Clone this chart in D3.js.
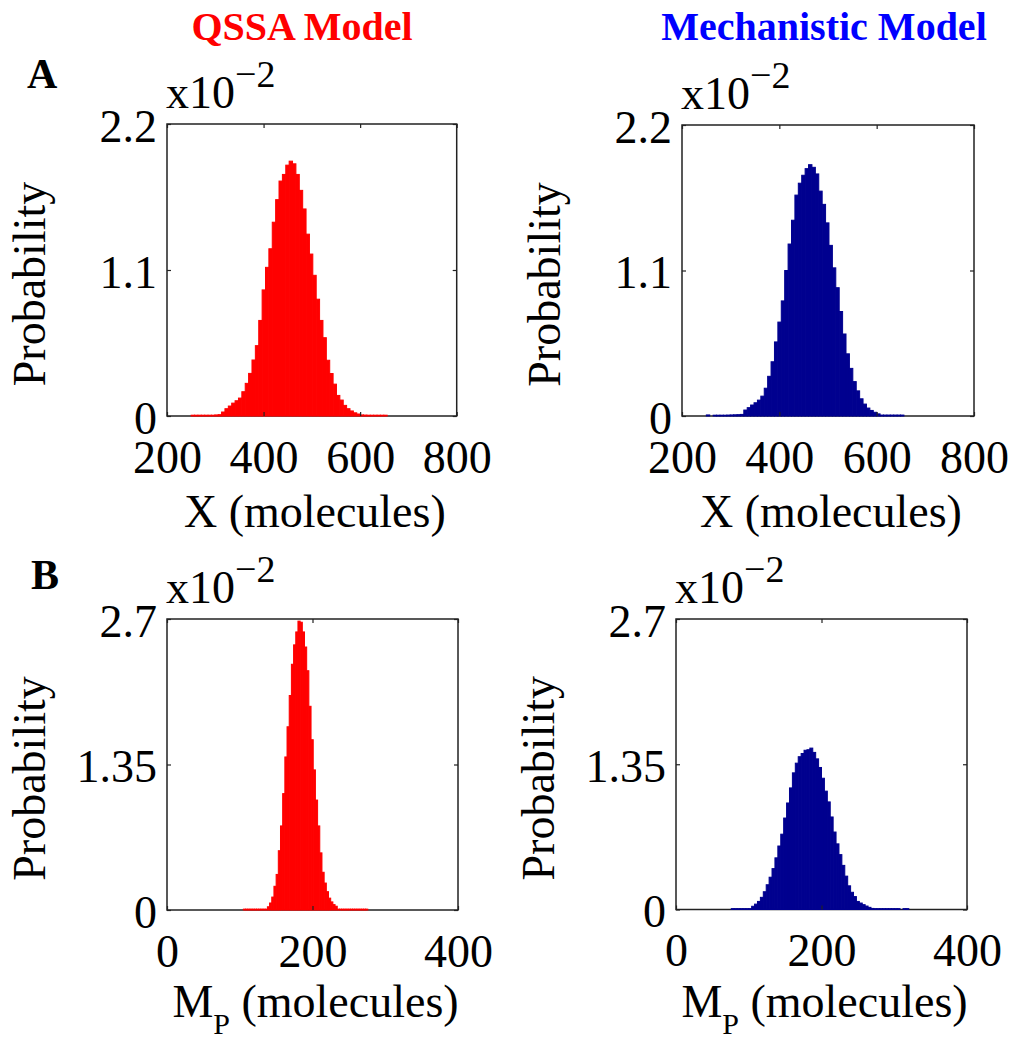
<!DOCTYPE html>
<html>
<head>
<meta charset="utf-8">
<script src="https://cdn.jsdelivr.net/npm/d3@7/dist/d3.min.js"></script>
<style>
  html, body { margin: 0; padding: 0; background: #fff; }
  svg { display: block; }
  text { font-family: "Liberation Serif", "Times New Roman", serif; fill: #000; }
</style>
</head>
<body>
<svg id="fig" width="1011" height="1042"></svg>
<script>
// Column headings and row letters
const columnTitles = ["QSSA Model", "Mechanistic Model"];
const columnColors = ["#ff0000", "#00008f"];
const titleColors = ["#ff0000", "#0000ff"];
const rowLetters = ["A", "B"];

// Axis ticks (probability in units of 10^-2)
const xTicksX = [200, 400, 600, 800];
const yTicksX = [0, 1.1, 2.2];
const xTicksMp = [0, 200, 400];
const yTicksMp = [0, 1.35, 2.7];

// Histogram of X (molecules): bins of 7 starting at 250
const binStartX = 250, binWidthX = 7;
const qssaX = [
  0.006, 0.006, 0.006, 0.006, 0.006, 0.006, 0.006, 0.008, 0.010,
  0.030, 0.055, 0.075, 0.097, 0.115, 0.135, 0.183, 0.246, 0.321, 0.422,
  0.53, 0.72, 0.95, 1.12, 1.26, 1.46, 1.63, 1.77, 1.82, 1.89, 1.92,
  1.90, 1.82, 1.70, 1.56, 1.37, 1.22, 1.06, 0.88, 0.72, 0.59, 0.42,
  0.32, 0.24, 0.155, 0.12, 0.08, 0.055, 0.038, 0.024, 0.015,
  0.008, 0.007, 0.006, 0.006, 0.006, 0.006, 0.006, 0.006
];
const mechX = [
  0.008, 0,
  0.006, 0.006, 0.006, 0.006, 0.007, 0.008, 0.009, 0.010, 0.012,
  0.045, 0.063, 0.083, 0.100, 0.12, 0.15, 0.21, 0.30, 0.41, 0.56,
  0.71, 0.87, 1.10, 1.30, 1.48, 1.67, 1.76, 1.82, 1.87, 1.90,
  1.88, 1.83, 1.70, 1.60, 1.46, 1.29, 1.12, 0.97, 0.79, 0.62,
  0.47, 0.36, 0.26, 0.19, 0.13, 0.09, 0.06, 0.042, 0.028, 0.016,
  0.007, 0.007, 0.007, 0.007, 0.007, 0.007, 0.007
];

// Histogram of M_P (molecules)
const binStartQMp = 105, binWidthQMp = 3;
const qssaMp = [
  0.008, 0.008, 0.008, 0.008, 0.008, 0.008, 0.008, 0.008, 0.008, 0.008, 0.008,
  0.03, 0.065, 0.12, 0.22, 0.33, 0.55, 0.78, 1.08, 1.42, 1.70,
  1.99, 2.28, 2.46, 2.58, 2.68, 2.67, 2.58, 2.44, 2.22, 1.89,
  1.58, 1.30, 1.02, 0.78, 0.53, 0.35, 0.25, 0.17, 0.11, 0.075,
  0.05, 0.035,
  0.008, 0.008, 0.008, 0.008, 0.008, 0.008, 0.008, 0.008, 0.008, 0.008, 0.008, 0.008, 0.008, 0.008
];
const binStartMMp = 76, binWidthMMp = 4;
const mechMp = [
  0.008, 0.008, 0.008, 0.008, 0.008, 0.008, 0.008,
  0.03, 0.05, 0.075, 0.113, 0.165, 0.23, 0.30, 0.38, 0.48, 0.59,
  0.70, 0.85, 0.99, 1.13, 1.27, 1.36, 1.42, 1.45, 1.48, 1.485,
  1.50, 1.46, 1.40, 1.32, 1.22, 1.10, 1.00, 0.86, 0.72, 0.61,
  0.51, 0.41, 0.31, 0.22, 0.16, 0.12, 0.075, 0.06, 0.045, 0.032,
  0.02, 0.01,
  0.008, 0.008, 0.008, 0.008, 0.008, 0.008, 0.008, 0.008, 0.008,
  0, 0.008, 0.008
];

const FS = 46;            // main text size
const svg = d3.select("#fig");

const panels = [
  { row: 0, col: 0, box: [167, 456.7, 124, 416], xDom: [200, 800], yDom: [0, 2.2],
    xTicks: xTicksX, yTicks: yTicksX, start: binStartX, width: binWidthX, values: qssaX, xlabel: "X" },
  { row: 0, col: 1, box: [682, 974, 125, 416], xDom: [200, 800], yDom: [0, 2.2],
    xTicks: xTicksX, yTicks: yTicksX, start: binStartX, width: binWidthX, values: mechX, xlabel: "X" },
  { row: 1, col: 0, box: [167, 458, 619, 910], xDom: [0, 400], yDom: [0, 2.7],
    xTicks: xTicksMp, yTicks: yTicksMp, start: binStartQMp, width: binWidthQMp, values: qssaMp, xlabel: "Mp" },
  { row: 1, col: 1, box: [676, 967, 619, 909.5], xDom: [0, 400], yDom: [0, 2.7],
    xTicks: xTicksMp, yTicks: yTicksMp, start: binStartMMp, width: binWidthMMp, values: mechMp, xlabel: "Mp" }
];

panels.forEach(p => {
  const [x0, x1, y0, y1] = p.box;
  const x = d3.scaleLinear().domain(p.xDom).range([x0, x1]);
  const y = d3.scaleLinear().domain(p.yDom).range([y1, y0]);
  const color = columnColors[p.col];
  const g = svg.append("g");

  // frame
  g.append("rect")
    .attr("x", x0).attr("y", y0)
    .attr("width", x1 - x0).attr("height", y1 - y0)
    .attr("fill", "none").attr("stroke", "#222").attr("stroke-width", 1.5);

  // histogram bars
  g.append("g").selectAll("rect")
    .data(p.values)
    .join("rect")
    .attr("x", (d, i) => x(p.start + i * p.width))
    .attr("width", x(p.start + p.width) - x(p.start))
    .attr("y", d => y(d))
    .attr("height", d => y(0) - y(d))
    .attr("fill", color)
    .attr("stroke", d => d > 0 ? color : "none")
    .attr("stroke-width", 1);

  // bottom axis with labels, inward ticks
  const bx = g.append("g").attr("transform", `translate(0,${y1})`)
    .call(d3.axisBottom(x).tickValues(p.xTicks).tickSize(-4).tickPadding(24).tickFormat(d3.format("d")));
  // top axis, ticks only
  const tx = g.append("g").attr("transform", `translate(0,${y0})`)
    .call(d3.axisTop(x).tickValues(p.xTicks).tickSize(-4).tickFormat(""));
  // left axis with labels
  const ly = g.append("g").attr("transform", `translate(${x0},0)`)
    .call(d3.axisLeft(y).tickValues(p.yTicks).tickSize(-4).tickPadding(10).tickFormat(d => String(d)));
  // right axis, ticks only
  const ry = g.append("g").attr("transform", `translate(${x1},0)`)
    .call(d3.axisRight(y).tickValues(p.yTicks).tickSize(-4).tickFormat(""));

  [bx, tx, ly, ry].forEach(a => {
    a.select(".domain").remove();
    a.selectAll(".tick line").attr("stroke", "#222").attr("stroke-width", 1.2);
    a.selectAll("text").attr("font-family", '"Liberation Serif", serif')
      .attr("font-size", FS).attr("fill", "#000");
  });
  ly.selectAll(".tick text").attr("dy", "0.38em");

  // exponent label
  const ex = g.append("text").attr("x", x0 - 1).attr("y", y0 - 16).attr("font-size", FS);
  ex.append("tspan").text("x10");
  ex.append("tspan").attr("font-size", 38).attr("dy", -21).text("\u22122");

  // y label
  g.append("text")
    .attr("transform", `translate(${x0 - 122},${(y0 + y1) / 2 + 14}) rotate(-90)`)
    .attr("text-anchor", "middle").attr("font-size", FS)
    .text("Probability");

  // x label
  const xl = g.append("text")
    .attr("x", (x0 + x1) / 2 + 3).attr("y", p.xlabel === "X" ? y1 + 111 : y1 + 107)
    .attr("text-anchor", "middle").attr("font-size", FS);
  if (p.xlabel === "X") {
    xl.text("X (molecules)");
  } else {
    xl.append("tspan").text("M");
    xl.append("tspan").attr("font-size", 30).attr("dy", 17).text("P");
    xl.append("tspan").attr("dy", -17).text(" (molecules)");
  }
});

// column titles
svg.selectAll(".coltitle")
  .data(columnTitles)
  .join("text")
  .attr("class", "coltitle")
  .attr("x", (d, i) => i === 0 ? 302 : 824)
  .attr("y", 40)
  .attr("text-anchor", "middle")
  .attr("font-weight", "bold")
  .attr("font-size", 40)
  .style("fill", (d, i) => titleColors[i])
  .text(d => d);

// row letters
svg.selectAll(".rowletter")
  .data(rowLetters)
  .join("text")
  .attr("class", "rowletter")
  .attr("x", (d, i) => i === 0 ? 27 : 31)
  .attr("y", (d, i) => i === 0 ? 88 : 589)
  .attr("font-weight", "bold")
  .attr("font-size", 42)
  .text(d => d);
</script>
</body>
</html>
